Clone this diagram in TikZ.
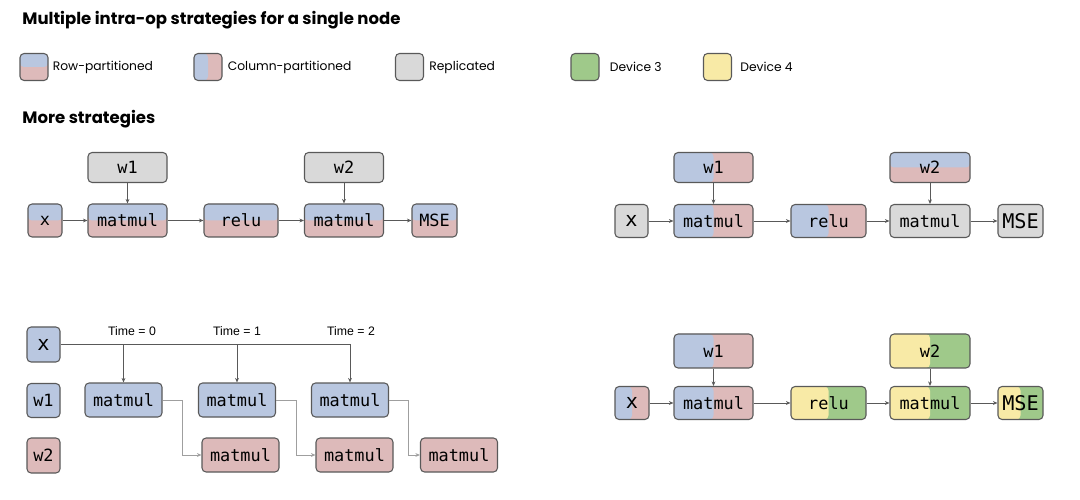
\documentclass[tikz,border=0pt]{standalone}
\usepackage{fontspec}
\setmainfont{Poppins}
\newfontfamily\codefont{DejaVu Sans Mono}
\newfontfamily\timefont{Liberation Sans}
\usetikzlibrary{arrows.meta,positioning}

\definecolor{blueC}{HTML}{B9C7E0}
\definecolor{redC}{HTML}{DDBABA}
\definecolor{grayC}{HTML}{D9D9D9}
\definecolor{greenC}{HTML}{9FC98A}
\definecolor{yellowC}{HTML}{F8EAA6}
\definecolor{lineC}{HTML}{595959}

\tikzset{
  op/.style={draw=lineC, line width=0.6pt, rounded corners=2.3pt, inner sep=0pt,
    minimum height=33*0.02cm, font=\codefont\fontsize{9.6}{9.6}\selectfont},
  wbox/.style={op, minimum height=30*0.02cm},
  wd/.style={minimum width=#1*0.02cm},
  big/.style={font=\codefont\fontsize{11.5}{11.5}\selectfont},
  swatch/.style={op, minimum width=28*0.02cm, minimum height=27*0.02cm},
  hsplit/.style 2 args={fill=#2, path picture={
    \fill[#1] (path picture bounding box.north west) rectangle (path picture bounding box.east);}},
  vsplit/.style 2 args={fill=#2, path picture={
    \fill[#1] (path picture bounding box.north west) rectangle (path picture bounding box.south);}},
  rep/.style={fill=grayC},
  head/.style={anchor=west, inner sep=0pt, font=\bfseries\fontsize{9.4}{9.4}\selectfont},
  legend/.style={anchor=west, inner sep=0pt, font=\fontsize{7}{7}\selectfont},
  timelbl/.style={inner sep=0pt, font=\timefont\fontsize{7}{7}\selectfont},
  arr/.style={draw=lineC, line width=0.45pt, -{Stealth[length=2.6pt,width=2.2pt]}},
  stair/.style={arr, draw=gray!75}
}

\begin{document}
\begin{tikzpicture}[x=0.02cm, y=-0.02cm]
    \useasboundingbox (0,0) rectangle (1080,500);

    % Headings
    \node[head] (title) at (22,20) {Multiple intra-op strategies for a single node};
    \node[head] (more) at (22,119) {More strategies};

    % Legend
    \node[swatch, hsplit={blueC}{redC}] (lgrow) at (34,67) {};
    \node[legend, right=0.08cm of lgrow] {Row-partitioned};
    \node[swatch, vsplit={blueC}{redC}] (lgcol) at (208,67) {};
    \node[legend, right=0.1cm of lgcol] {Column-partitioned};
    \node[swatch, rep] (lgrep) at (409.5,67) {};
    \node[legend, right=0.1cm of lgrep] {Replicated};
    \node[swatch, fill=greenC] (lgdev3) at (585,67) {};
    \node[legend, right=0.2cm of lgdev3] {Device 3};
    \node[swatch, fill=yellowC] (lgdev4) at (717.5,67) {};
    \node[legend, right=0.16cm of lgdev4] {Device 4};

    % Top left: all row-partitioned
    \node[wbox, wd=79, rep] (tlw1) at (127.5,167.5) {w1};
    \node[wbox, wd=79, rep] (tlw2) at (344,167.5) {w2};
    \node[op, wd=34, hsplit={blueC}{redC}] (tlx) at (45,220.5) {x};
    \node[op, wd=79, hsplit={blueC}{redC}] (tlm1) at (127.5,220.5) {matmul};
    \node[op, wd=74, hsplit={blueC}{redC}] (tlrelu) at (241,220.5) {relu};
    \node[op, wd=79, hsplit={blueC}{redC}] (tlm2) at (344,220.5) {matmul};
    \node[op, wd=45, hsplit={blueC}{redC}] (tlmse) at (434.5,220.5) {MSE};
    \draw[arr] (tlx) -- (tlm1);
    \draw[arr] (tlm1) -- (tlrelu);
    \draw[arr] (tlrelu) -- (tlm2);
    \draw[arr] (tlm2) -- (tlmse);
    \draw[arr] (tlw1) -- (tlm1);
    \draw[arr] (tlw2) -- (tlm2);

    % Top right: column-partitioned, then replicated
    \node[wbox, wd=79, vsplit={blueC}{redC}] (trw1) at (713.5,167.5) {w1};
    \node[wbox, wd=80, hsplit={blueC}{redC}] (trw2) at (930,167.5) {w2};
    \node[op, big, wd=33, rep] (trx) at (631.5,221) {x};
    \node[op, wd=79, vsplit={blueC}{redC}] (trm1) at (713.5,221) {matmul};
    \node[op, wd=75, vsplit={blueC}{redC}] (trrelu) at (828.5,221) {relu};
    \node[op, wd=80, rep] (trm2) at (930,221) {matmul};
    \node[op, big, wd=45, rep] (trmse) at (1020.5,221) {MSE};
    \draw[arr] (trx) -- (trm1);
    \draw[arr] (trm1) -- (trrelu);
    \draw[arr] (trrelu) -- (trm2);
    \draw[arr] (trm2) -- (trmse);
    \draw[arr] (trw1) -- (trm1);
    \draw[arr] (trw2) -- (trm2);

    % Bottom left: one matmul per time step
    \node[op, big, wd=33, minimum height=35*0.02cm, fill=blueC] (blx) at (43.5,344.5) {x};
    \node[op, wd=33, minimum height=34*0.02cm, fill=blueC] (blw1) at (43.5,400.5) {w1};
    \node[op, wd=33, minimum height=35*0.02cm, fill=redC] (blw2) at (43.5,455.5) {w2};
    \node[op, wd=77, minimum height=34*0.02cm, fill=blueC] (blm1) at (123.5,400) {matmul};
    \node[op, wd=77, minimum height=34*0.02cm, fill=blueC] (blm2) at (237,400) {matmul};
    \node[op, wd=77, minimum height=34*0.02cm, fill=blueC] (blm3) at (350,400) {matmul};
    \node[op, wd=77, minimum height=34*0.02cm, fill=redC] (bln1) at (240.5,455) {matmul};
    \node[op, wd=77, minimum height=34*0.02cm, fill=redC] (bln2) at (354.5,455) {matmul};
    \node[op, wd=77, minimum height=34*0.02cm, fill=redC] (bln3) at (459,455) {matmul};
    \node[timelbl] (t0) at (132,331) {Time = 0};
    \node[timelbl] (t1) at (237,331) {Time = 1};
    \node[timelbl] (t2) at (351,331) {Time = 2};
    \draw[arr] (blx.east) -| (blm3.north);
    \draw[arr] (blx.east -| blm1.north) -- (blm1.north);
    \draw[arr] (blx.east -| blm2.north) -- (blm2.north);
    \draw[stair] (blm1.east) -- ++(20,0) |- (bln1.west);
    \draw[stair] (blm2.east) -- ++(20,0) |- (bln2.west);
    \draw[stair] (blm3.east) -- ++(19,0) |- (bln3.west);

    % Bottom right: devices 3 and 4
    \node[op, wd=79, minimum height=34*0.02cm, vsplit={blueC}{redC}] (brw1) at (713.5,351) {w1};
    \node[op, wd=80, minimum height=34*0.02cm, vsplit={yellowC}{greenC}] (brw2) at (930,351) {w2};
    \node[op, big, wd=34, vsplit={blueC}{redC}] (brx) at (632,403) {x};
    \node[op, wd=79, vsplit={blueC}{redC}] (brm1) at (713.5,403) {matmul};
    \node[op, wd=75, vsplit={yellowC}{greenC}] (brrelu) at (828.5,403) {relu};
    \node[op, wd=80, vsplit={yellowC}{greenC}] (brm2) at (930,403) {matmul};
    \node[op, big, wd=45, vsplit={yellowC}{greenC}] (brmse) at (1020.5,403) {MSE};
    \draw[arr] (brx) -- (brm1);
    \draw[arr] (brm1) -- (brrelu);
    \draw[arr] (brrelu) -- (brm2);
    \draw[arr] (brm2) -- (brmse);
    \draw[arr] (brw1) -- (brm1);
    \draw[arr] (brw2) -- (brm2);
\end{tikzpicture}
\end{document}
